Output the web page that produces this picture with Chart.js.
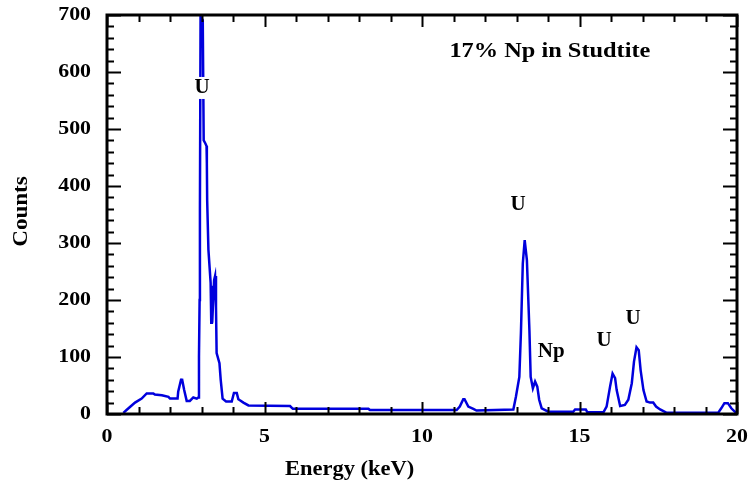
<!DOCTYPE html>
<html lang="en">
  <head>
    <meta charset="UTF-8" />
    <title>Studtite spectrum</title>
    <script src="https://cdn.jsdelivr.net/npm/chart.js"></script>
    <style>
      body { margin: 0; background: #fff; }
    </style>
  </head>
  <body>
    <canvas id="myChart" width="749" height="488"></canvas>
    <script>
      // spectrum
      const energy = [0.52, 0.62, 0.89, 1.10, 1.26, 1.47, 1.52, 1.74, 1.95, 2.00, 2.24, 2.26, 2.35, 2.38, 2.45, 2.53, 2.63, 2.74, 2.85, 2.90,
        2.92, 2.94, 2.95, 2.97, 3.04, 3.07, 3.12, 3.16, 3.17, 3.18, 3.22, 3.29, 3.31, 3.33, 3.34, 3.40, 3.43, 3.46, 3.48, 3.57,
        3.61, 3.67, 3.78, 3.96, 4.03, 4.12, 4.17, 4.22, 4.33, 4.49, 5.81, 5.90, 8.30, 8.35, 11.10, 11.20, 11.31, 11.35, 11.47, 11.63,
        11.73, 12.90, 12.98, 13.09, 13.14, 13.20, 13.26, 13.33, 13.41, 13.45, 13.52, 13.59, 13.66, 13.72, 13.80, 14.01, 14.80, 14.86, 15.20, 15.25,
        15.76, 15.86, 15.97, 16.05, 16.13, 16.18, 16.29, 16.44, 16.55, 16.66, 16.73, 16.81, 16.88, 16.94, 17.03, 17.13, 17.24, 17.34, 17.43, 17.56,
        17.77, 19.40, 19.50, 19.60, 19.71, 19.82, 19.97];
      const counts = [2, 7, 20, 27, 36, 36, 34, 33, 30, 27, 27, 39, 60, 62, 42, 23, 23, 29, 27, 29,
        100, 200, 360, 697, 691, 480, 475, 470, 440, 375, 288, 230, 160, 225, 160, 235, 242, 188, 107, 89,
        60, 27, 22, 22, 37, 37, 26, 24, 20, 15, 14, 9, 9, 7, 7, 13, 26, 26, 13, 9,
        6, 8, 30, 65, 142, 264, 305, 270, 147, 65, 45, 57, 48, 25, 10, 4, 4, 8, 8, 3,
        3, 13, 48, 71, 63, 42, 14, 16, 25, 54, 92, 117, 112, 77, 42, 22, 20, 20, 13, 8,
        2, 2, 10, 19, 19, 10, 2];

      const xTicks = [0, 5, 10, 15, 20];
      const yTicks = [0, 100, 200, 300, 400, 500, 600, 700];

      // peak labels (text, energy, counts)
      const peakText = ["U", "U", "Np", "U", "U"];
      const peakX = [3.02, 13.05, 14.1, 15.78, 16.7];
      const peakY = [572, 367, 109, 128, 168];
      const chartTitle = "17% Np in Studtite";
      const xTitle = "Energy (keV)";
      const yTitle = "Counts";

      const points = energy.map((e, i) => ({ x: e, y: counts[i] }));
      const serif = "'Liberation Serif', 'Times New Roman', serif";

      // the original's lettering is a bit wider than Liberation Serif
      function wideText(ctx, text, x, y, sx, align) {
        ctx.save();
        ctx.translate(x, y);
        ctx.scale(sx, 1);
        ctx.textAlign = align || "center";
        ctx.fillText(text, 0, 0);
        ctx.restore();
      }

      // frame, inward ticks on all four sides, and all text
      const framePlugin = {
        id: "frame",
        afterDatasetsDraw(chart) {
          const { ctx, chartArea: a, scales } = chart;
          const xs = scales.x, ys = scales.y;
          ctx.save();
          ctx.strokeStyle = "#000";
          ctx.lineWidth = 2;
          ctx.beginPath();
          for (let v = 0; v <= 20; v++) {
            const len = v % 5 === 0 ? 12 : 7;
            const px = Math.round(xs.getPixelForValue(v)) + 0.5;
            ctx.moveTo(px, a.bottom); ctx.lineTo(px, a.bottom - len);
            ctx.moveTo(px, a.top); ctx.lineTo(px, a.top + len);
          }
          for (let v = 0; v <= 700; v += 20) {
            const len = v % 100 === 0 ? 14 : 7;
            const py = Math.round(ys.getPixelForValue(v)) + 0.5;
            ctx.moveTo(a.left, py); ctx.lineTo(a.left + len, py);
            ctx.moveTo(a.right, py); ctx.lineTo(a.right - len, py);
          }
          ctx.stroke();
          ctx.lineWidth = 3;
          ctx.strokeRect(a.left, a.top, a.right - a.left, a.bottom - a.top);

          ctx.fillStyle = "#000";
          ctx.textBaseline = "middle";

          // tick labels
          ctx.font = "bold 19px " + serif;
          xTicks.forEach((v) => wideText(ctx, String(v), xs.getPixelForValue(v), a.bottom + 23, 1.15));
          yTicks.forEach((v) => wideText(ctx, String(v), a.left - 16, ys.getPixelForValue(v), 1.15, "right"));

          // axis titles
          ctx.font = "bold 21px " + serif;
          wideText(ctx, xTitle, xs.getPixelForValue(7.7), a.bottom + 56, 1.07);
          ctx.save();
          ctx.translate(22, (a.top + a.bottom) / 2 - 3);
          ctx.rotate(-Math.PI / 2);
          wideText(ctx, yTitle, 0, 0, 1.1);
          ctx.restore();

          // peak labels, with a white box so they cut the line like in the original
          ctx.font = "bold 21px " + serif;
          ctx.textAlign = "center";
          peakText.forEach((t, i) => {
            const px = xs.getPixelForValue(peakX[i]);
            const py = ys.getPixelForValue(peakY[i]);
            const w = ctx.measureText(t).width;
            ctx.fillStyle = "#fff";
            ctx.fillRect(px - w / 2 - 1, py - 11, w + 2, 22);
            ctx.fillStyle = "#000";
            ctx.fillText(t, px, py);
          });

          ctx.font = "bold 21px " + serif;
          wideText(ctx, chartTitle, xs.getPixelForValue(14.06), ys.getPixelForValue(635), 1.16);
          ctx.restore();
        },
      };

      const ctx = document.getElementById("myChart").getContext("2d");
      new Chart(ctx, {
        type: "line",
        data: {
          datasets: [
            {
              data: points,
              borderColor: "#0000dd",
              borderWidth: 2.5,
              pointRadius: 0,
              tension: 0,
              fill: false,
            },
          ],
        },
        options: {
          responsive: false,
          animation: false,
          layout: { padding: { top: 15, right: 12, left: 0, bottom: 0 } },
          plugins: { legend: { display: false }, tooltip: { enabled: false } },
          scales: {
            x: {
              type: "linear",
              min: 0,
              max: 20,
              grid: { display: false },
              border: { display: false },
              ticks: { display: false },
              afterFit: (s) => { s.height = 74; },
            },
            y: {
              min: 0,
              max: 700,
              grid: { display: false },
              border: { display: false },
              ticks: { display: false },
              afterFit: (s) => { s.width = 107; },
            },
          },
        },
        plugins: [framePlugin],
      });
    </script>
  </body>
</html>
